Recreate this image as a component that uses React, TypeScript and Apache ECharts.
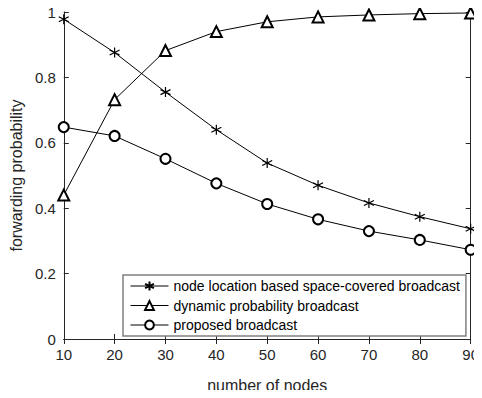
import React, { useEffect, useRef } from "react";
import * as echarts from "echarts";

const nodes = [10, 20, 30, 40, 50, 60, 70, 80, 90];
const spaceCovered = [0.978, 0.876, 0.755, 0.64, 0.538, 0.47, 0.416, 0.374, 0.337];
const dynamicProb = [0.44, 0.732, 0.882, 0.94, 0.97, 0.985, 0.991, 0.995, 0.997];
const proposed = [0.648, 0.621, 0.551, 0.476, 0.413, 0.366, 0.33, 0.303, 0.273];
const seriesNames = [
  "node location based space-covered broadcast",
  "dynamic probability broadcast",
  "proposed broadcast",
];

const STAR = "path://M0,-5L0,5M-4.3,-2.5L4.3,2.5M-4.3,2.5L4.3,-2.5";

export default function App() {
  const ref = useRef<HTMLDivElement>(null);
  useEffect(() => {
    if (!ref.current) return;
    const chart = echarts.init(ref.current, null, { renderer: "svg" });
    const font = "Liberation Sans, Arial, sans-serif";
    const pair = (d: number[]) => nodes.map((x, i) => [x, d[i]]);
    const tickColor = "#262626";
    chart.setOption({
      animation: false,
      backgroundColor: "#fff",
      textStyle: { fontFamily: font },
      grid: { left: 60, right: 4, top: 12, bottom: 56, containLabel: false },
      xAxis: [
        {
          type: "value",
          min: 10,
          max: 90,
          interval: 10,
          name: "number of nodes",
          nameLocation: "middle",
          nameGap: 38,
          nameTextStyle: { fontSize: 16, color: tickColor, fontFamily: font },
          axisLine: { lineStyle: { color: tickColor, width: 1 } },
          axisTick: { inside: true, length: 5, lineStyle: { color: tickColor } },
          axisLabel: { fontSize: 15, color: tickColor, margin: 8, fontFamily: font },
          splitLine: { show: false },
        },
        {
          type: "value",
          position: "top",
          min: 10,
          max: 90,
          interval: 10,
          axisLine: { show: true, lineStyle: { color: tickColor, width: 1 } },
          axisTick: { inside: true, length: 5, lineStyle: { color: tickColor } },
          axisLabel: { show: false },
          splitLine: { show: false },
        },
      ],
      yAxis: [
        {
          type: "value",
          min: 0,
          max: 1,
          interval: 0.2,
          name: "forwarding probability",
          nameLocation: "middle",
          nameGap: 38,
          nameTextStyle: { fontSize: 16, color: tickColor, fontFamily: font },
          axisLine: { show: true, lineStyle: { color: tickColor, width: 1 } },
          axisTick: { show: true, inside: true, length: 5, lineStyle: { color: tickColor } },
          axisLabel: { fontSize: 15, color: tickColor, margin: 8, fontFamily: font },
          splitLine: { show: false },
        },
        {
          type: "value",
          position: "right",
          min: 0,
          max: 1,
          interval: 0.2,
          axisLine: { show: true, lineStyle: { color: tickColor, width: 1 } },
          axisTick: { show: true, inside: true, length: 5, lineStyle: { color: tickColor } },
          axisLabel: { show: false },
          splitLine: { show: false },
        },
      ],
      legend: {
        orient: "vertical",
        left: 123,
        top: 275,
        itemWidth: 38,
        itemHeight: 11,
        itemGap: 5.5,
        padding: [4, 6, 4, 7],
        borderColor: "#808080",
        borderWidth: 1.5,
        backgroundColor: "#fff",
        lineStyle: { width: 1 },
        textStyle: { fontSize: 14, color: "#000", fontFamily: font },
        data: seriesNames,
      },
      series: [
        {
          name: seriesNames[0],
          type: "line",
          data: pair(spaceCovered),
          symbol: STAR,
          symbolSize: 10,
          clip: false,
          lineStyle: { color: "#000", width: 1 },
          itemStyle: { color: "#000", borderColor: "#000", borderWidth: 1.2 },
        },
        {
          name: seriesNames[1],
          type: "line",
          data: pair(dynamicProb),
          symbol: "emptyTriangle",
          symbolSize: 11,
          clip: false,
          lineStyle: { color: "#000", width: 1 },
          itemStyle: { color: "#000", borderColor: "#000", borderWidth: 1.2 },
        },
        {
          name: seriesNames[2],
          type: "line",
          data: pair(proposed),
          symbol: "emptyCircle",
          symbolSize: 10,
          clip: false,
          lineStyle: { color: "#000", width: 1 },
          itemStyle: { color: "#000", borderColor: "#000", borderWidth: 1.2 },
        },
      ],
    });
    return () => chart.dispose();
  }, []);
  return <div ref={ref} style={{ width: 482, height: 398, margin: -8 }} />;
}
